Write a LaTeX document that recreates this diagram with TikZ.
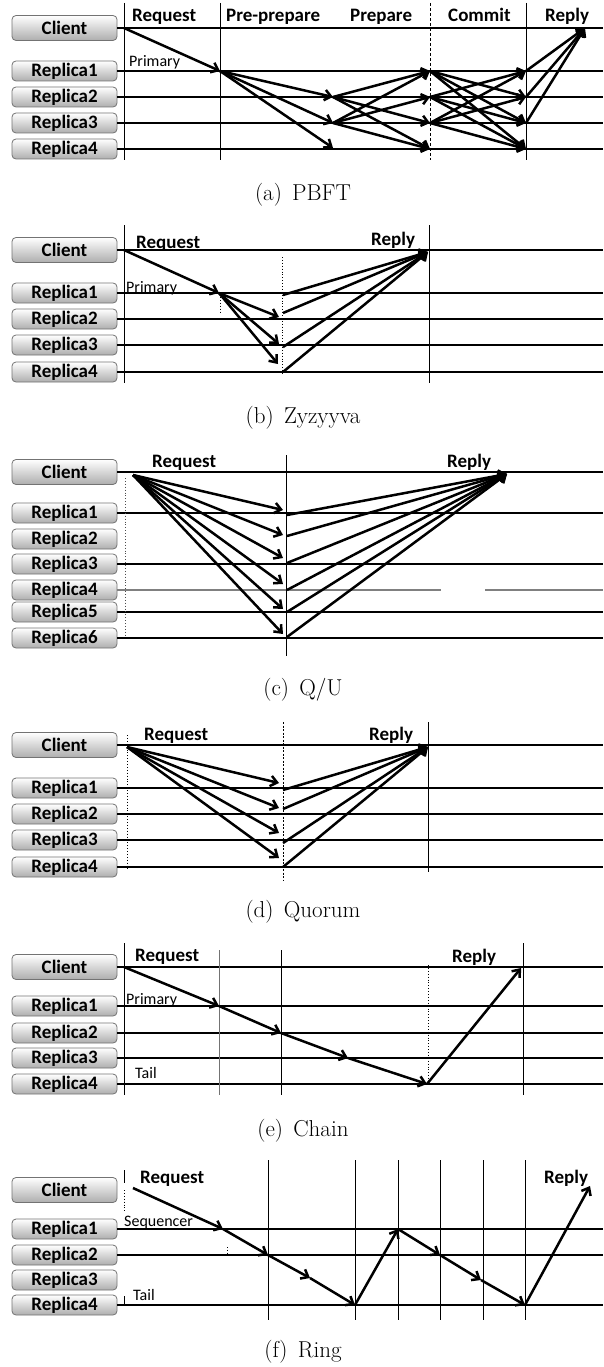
\documentclass[tikz,border=0pt]{standalone}
\usepackage{fontspec}
\newfontfamily\calib{Carlito}
\usetikzlibrary{arrows.meta}
\begin{document}
\begin{tikzpicture}[x=1pt,y=-1pt,
  box/.style={draw=black!55, line width=0.8pt, rounded corners=4pt, top color=white, bottom color=black!32,
    minimum width=105pt, minimum height=20pt, inner sep=0pt, font=\calib\bfseries\fontsize{19}{19}\selectfont},
  cbox/.style={box, minimum height=25pt},
  ln/.style={line width=1.1pt},
  vl/.style={line width=0.9pt},
  ar/.style={line width=2.5pt, -{Straight Barb[length=6.5pt,width=10.5pt]}},
  hd/.style={anchor=base west, inner sep=0pt, font=\calib\bfseries\fontsize{19}{19}\selectfont},
  sm/.style={anchor=base west, inner sep=0pt, font=\calib\fontsize{16}{16}\selectfont},
  captext/.style={font=\fontsize{23}{27}\selectfont, inner sep=0pt}
]
\useasboundingbox (0,0) rectangle (603,1367);

% ================= (a) PBFT =================
\node[cbox] (aC) at (64.5,28) {Client};
\node[box] (a1) at (64.5,71) {Replica1};
\node[box] (a2) at (64.5,97) {Replica2};
\node[box] (a3) at (64.5,123) {Replica3};
\node[box] (a4) at (64.5,149) {Replica4};
\foreach \n in {aC,a1,a2,a3,a4} \draw[ln] (\n.east) -- ++(486,0);
\draw[vl] (124,3) -- (124,160);
\draw[vl] (220,3) -- (220,160);
\draw[vl,dash pattern=on 3pt off 2pt] (430,3) -- (430,160);
\draw[vl] (526,3) -- (526,160);
\node[hd] (aRq) at (132,22) {Request};
\node[hd] (aPp) at (226,22) {Pre-prepare};
\node[hd] (aPr) at (350,22) {Prepare};
\node[hd] (aCm) at (448,22) {Commit};
\node[hd] (aRp) at (545,22) {Reply};
\node[sm] (aPrim) at (129,67) {Primary};
\coordinate (a-c0) at (124,28);
\coordinate (a-p1) at (220,71);
\coordinate (a-q2) at (333,97);
\coordinate (a-q3) at (333,123);
\coordinate (a-q4) at (333,148);
\coordinate (a-r1) at (430,71);
\coordinate (a-r2) at (430,97);
\coordinate (a-r3) at (430,123);
\coordinate (a-r4) at (430,149);
\coordinate (a-s1) at (526,71);
\coordinate (a-s2) at (526,97);
\coordinate (a-s3) at (526,123);
\coordinate (a-s4) at (526,149);
\coordinate (a-cr) at (585,28);
\draw[ar] (a-c0) -- (a-p1);
\foreach \t in {q2,q3,q4} \draw[ar] (a-p1) -- (a-\t);
\foreach \t in {r1,r3,r4} \draw[ar] (a-q2) -- (a-\t);
\foreach \t in {r1,r2,r4} \draw[ar] (a-q3) -- (a-\t);
\foreach \t in {s2,s3,s4} \draw[ar] (a-r1) -- (a-\t);
\foreach \t in {s1,s3,s4} \draw[ar] (a-r2) -- (a-\t);
\foreach \t in {s1,s2,s4} \draw[ar] (a-r3) -- (a-\t);
\foreach \s in {s1,s2,s3} \draw[ar] (a-\s) -- (a-cr);
\node[captext] (capa) at (303,195) {(a)\hspace{0.45em}PBFT};

% ================= (b) Zyzyyva =================
\node[cbox] (bC) at (64.5,250) {Client};
\node[box] (b1) at (64.5,293) {Replica1};
\node[box] (b2) at (64.5,319) {Replica2};
\node[box] (b3) at (64.5,345) {Replica3};
\node[box] (b4) at (64.5,372) {Replica4};
\foreach \n in {bC,b1,b2,b3,b4} \draw[ln] (\n.east) -- ++(486,0);
\draw[vl] (124,225) -- (124,383);
\draw[vl] (429,225) -- (429,383);
\draw[vl,dotted] (282,257) -- (282,375);
\draw[vl,dotted] (220,297) -- (220,312);
\node[hd] (bRq) at (136,248) {Request};
\node[hd] (bRp) at (371,245) {Reply};
\node[sm] (bPrim) at (126,292) {Primary};
\coordinate (b-c0) at (124,250);
\coordinate (b-p1) at (219,293);
\coordinate (b-t2) at (279,317);
\coordinate (b-t3) at (279,344);
\coordinate (b-t4) at (278,364);
\coordinate (b-u1) at (283,295);
\coordinate (b-u2) at (283,313);
\coordinate (b-u3) at (283,347);
\coordinate (b-u4) at (283,372);
\coordinate (b-cr) at (428,252);
\draw[ar] (b-c0) -- (b-p1);
\foreach \t in {t2,t3,t4} \draw[ar] (b-p1) -- (b-\t);
\foreach \s in {u1,u2,u3,u4} \draw[ar] (b-\s) -- (b-cr);
\node[captext] (capb) at (303,418) {(b)\hspace{0.45em}Zyzyyva};

% ================= (c) Q/U =================
\node[cbox] (cC) at (64.5,472) {Client};
\node[box] (c1) at (64.5,513) {Replica1};
\node[box] (c2) at (64.5,539) {Replica2};
\node[box] (c3) at (64.5,564) {Replica3};
\node[box] (c4) at (64.5,590) {Replica4};
\node[box] (c5) at (64.5,612) {Replica5};
\node[box] (c6) at (64.5,638) {Replica6};
\foreach \n in {cC,c1,c3,c5,c6} \draw[ln] (\n.east) -- ++(486,0);
\coordinate (c4a) at (441,590);
\coordinate (c4b) at (485,590);
\coordinate (c4c) at (603,590);
\draw[ln,black!50] (c4.east) -- (c4a);
\draw[ln,black!50] (c4b) -- (c4c);
\draw[vl] (286,455) -- (286,656);
\draw[vl,dotted,black!70] (125,478) -- (125,637);
\node[hd] (cRq) at (152,467) {Request};
\node[hd] (cRp) at (447,467) {Reply};
\coordinate (c-c0) at (133,475);
\coordinate (c-t1) at (283,510);
\coordinate (c-t2) at (283,535);
\coordinate (c-t3) at (283,558);
\coordinate (c-t4) at (283,584);
\coordinate (c-t5) at (283,609);
\coordinate (c-t6) at (283,634);
\coordinate (c-u1) at (287,515);
\coordinate (c-u2) at (287,536);
\coordinate (c-u3) at (287,563);
\coordinate (c-u4) at (287,590);
\coordinate (c-u5) at (287,612);
\coordinate (c-u6) at (287,637);
\coordinate (c-cr) at (507,474);
\foreach \t in {t1,t2,t3,t4,t5,t6} \draw[ar] (c-c0) -- (c-\t);
\foreach \s in {u1,u2,u3,u4,u5,u6} \draw[ar] (c-\s) -- (c-cr);
\node[captext] (capc) at (303,690) {(c)\hspace{0.45em}Q/U};

% ================= (d) Quorum =================
\node[cbox] (dC) at (64.5,745) {Client};
\node[box] (d1) at (64.5,788) {Replica1};
\node[box] (d2) at (64.5,814) {Replica2};
\node[box] (d3) at (64.5,840) {Replica3};
\node[box] (d4) at (64.5,867) {Replica4};
\foreach \n in {dC,d1,d2,d3,d4} \draw[ln] (\n.east) -- ++(486,0);
\draw[vl,dotted] (127,735) -- (127,870);
\draw[vl,dash pattern=on 2pt off 1.5pt] (283,722) -- (283,880);
\draw[vl] (428,722) -- (428,872);
\node[hd] (dRq) at (144,740) {Request};
\node[hd] (dRp) at (369,740) {Reply};
\coordinate (d-c0) at (127,747);
\coordinate (d-t1) at (279,783);
\coordinate (d-t2) at (279,808);
\coordinate (d-t3) at (279,833);
\coordinate (d-t4) at (279,858);
\coordinate (d-u1) at (283,790);
\coordinate (d-u2) at (283,809);
\coordinate (d-u3) at (283,843);
\coordinate (d-u4) at (283,867);
\coordinate (d-cr) at (428,747);
\foreach \t in {t1,t2,t3,t4} \draw[ar] (d-c0) -- (d-\t);
\foreach \s in {u1,u2,u3,u4} \draw[ar] (d-\s) -- (d-cr);
\node[captext] (capd) at (303,912) {(d)\hspace{0.45em}Quorum};

% ================= (e) Chain =================
\node[cbox] (eC) at (64.5,967) {Client};
\node[box] (e1) at (64.5,1006) {Replica1};
\node[box] (e2) at (64.5,1033) {Replica2};
\node[box] (e3) at (64.5,1058) {Replica3};
\node[box] (e4) at (64.5,1084) {Replica4};
\foreach \n in {eC,e1,e2,e3} \draw[ln] (\n.east) -- ++(486,0);
\draw[line width=2pt] (e4.east) -- ++(486,0);
\draw[vl] (124,943) -- (124,1095);
\draw[vl,black!55] (219,950) -- (219,1095);
\draw[vl] (281,950) -- (281,1095);
\draw[vl,dotted] (428,965) -- (428,1080);
\draw[vl] (523,943) -- (523,1095);
\node[hd] (eRq) at (135,961) {Request};
\node[hd] (eRp) at (452,962) {Reply};
\node[sm] (ePrim) at (126,1004) {Primary};
\node[sm] (eTail) at (135,1078) {Tail};
\coordinate (e-c0) at (124,967);
\coordinate (e-p1) at (219,1006);
\coordinate (e-p2) at (281,1033);
\coordinate (e-p3) at (348,1058);
\coordinate (e-p4) at (427,1084);
\coordinate (e-cr) at (521,968);
\draw[ar] (e-c0) -- (e-p1);
\draw[ar] (e-p1) -- (e-p2);
\draw[ar] (e-p2) -- (e-p3);
\draw[ar] (e-p3) -- (e-p4);
\draw[ar] (e-p4) -- (e-cr);
\node[captext] (cape) at (303,1131) {(e)\hspace{0.45em}Chain};

% ================= (f) Ring =================
\node[cbox] (fC) at (64.5,1190) {Client};
\node[box] (f1) at (64.5,1229) {Replica1};
\node[box] (f2) at (64.5,1255) {Replica2};
\node[box] (f3) at (64.5,1280) {Replica3};
\node[box] (f4) at (64.5,1305) {Replica4};
\foreach \n in {f1,f2,f4} \draw[ln] (\n.east) -- ++(486,0);
\foreach \x in {268,355,398,440,483,525} \draw[vl] (\x,1160) -- (\x,1320);
\draw[vl] (124,1170) -- (124,1183);
\draw[vl,dotted] (124,1190) -- (124,1212);
\draw[vl] (124,1296) -- (124,1306);
\draw[vl,dotted] (227,1247) -- (227,1255);
\node[hd] (fRq) at (140,1183) {Request};
\node[hd] (fRp) at (544,1183) {Reply};
\node[sm] (fSeq) at (124,1226) {Sequencer};
\node[sm] (fTail) at (133,1300) {Tail};
\coordinate (f-c0) at (133,1188);
\coordinate (f-p1) at (223,1229);
\coordinate (f-p2) at (268,1255);
\coordinate (f-p3) at (310,1278);
\coordinate (f-p4) at (355,1305);
\coordinate (f-p5) at (398,1229);
\coordinate (f-p6) at (440,1255);
\coordinate (f-p7) at (481,1280);
\coordinate (f-p8) at (525,1305);
\coordinate (f-cr) at (590,1186);
\draw[ar] (f-c0) -- (f-p1);
\draw[ar] (f-p1) -- (f-p2);
\draw[ar] (f-p2) -- (f-p3);
\draw[ar] (f-p3) -- (f-p4);
\draw[ar] (f-p4) -- (f-p5);
\draw[ar] (f-p5) -- (f-p6);
\draw[ar] (f-p6) -- (f-p7);
\draw[ar] (f-p7) -- (f-p8);
\draw[ar] (f-p8) -- (f-cr);
\node[captext] (capf) at (303,1352) {(f)\hspace{0.45em}Ring};
\end{tikzpicture}
\end{document}
